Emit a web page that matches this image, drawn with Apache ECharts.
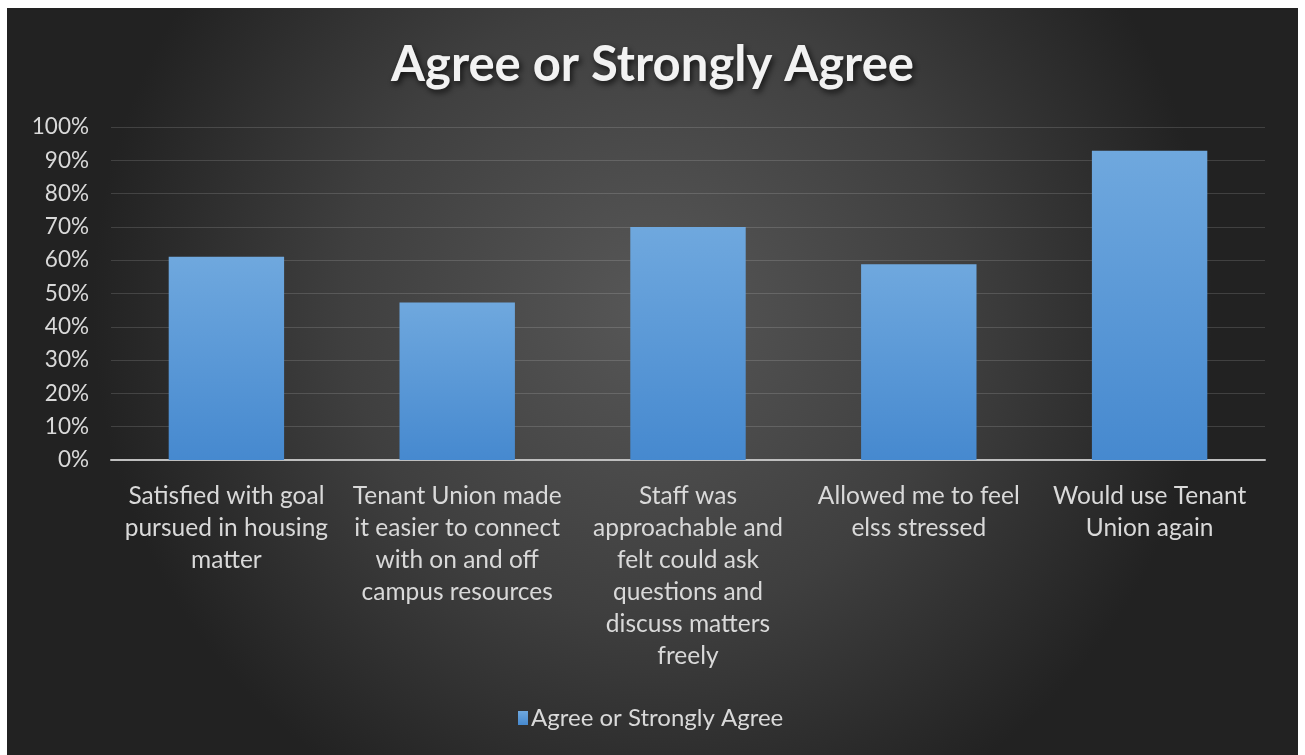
<!DOCTYPE html>
<html>
<head>
<meta charset="utf-8">
<title>Agree or Strongly Agree</title>
<script src="https://cdn.jsdelivr.net/npm/echarts@6/dist/echarts.min.js"></script>
<style>
  html, body { margin: 0; padding: 0; background: #ffffff; }
  #chart { position: absolute; left: 7px; top: 8px; width: 1291px; height: 747px; }
</style>
</head>
<body>
<div id="chart"></div>
<script>
// Survey statements (x axis) and share answering agree / strongly agree
const categories = [
  'Satisfied with goal\npursued in housing\nmatter',
  'Tenant Union made\nit easier to connect\nwith on and off\ncampus resources',
  'Staff was\napproachable and\nfelt could ask\nquestions and\ndiscuss matters\nfreely',
  'Allowed me to feel\nelss stressed',
  'Would use Tenant\nUnion again'
];
const agreeValues = [61, 47.3, 70, 58.8, 92.9];
const seriesName = 'Agree or Strongly Agree';
const chartTitle = 'Agree or Strongly Agree';

const labelFont = 'Lato, "Open Sans", sans-serif';

const chart = echarts.init(document.getElementById('chart'), null, { renderer: 'canvas' });

chart.setOption({
  backgroundColor: {
    type: 'radial', x: 0.5, y: 0.4, r: 0.75,
    colorStops: [
      { offset: 0, color: '#575757' },
      { offset: 0.55, color: '#3f3f3f' },
      { offset: 1, color: '#222222' }
    ]
  },
  title: {
    text: chartTitle,
    left: 'center',
    top: 28,
    textStyle: {
      color: '#f2f2f2',
      fontFamily: labelFont,
      fontWeight: 'bold',
      fontSize: 49,
      textShadowColor: 'rgba(0,0,0,0.75)',
      textShadowBlur: 6,
      textShadowOffsetX: 2,
      textShadowOffsetY: 3
    }
  },
  legend: {
    bottom: 20,
    left: 506,
    itemWidth: 10,
    itemHeight: 14,
    itemGap: 4,
    icon: 'rect',
    textStyle: { color: '#d9d9d9', fontSize: 24, fontFamily: labelFont, padding: [0, 0, 0, -2] },
    data: [seriesName]
  },
  grid: { left: 104, right: 33, top: 119, bottom: 295, containLabel: false },
  xAxis: {
    type: 'category',
    data: categories,
    axisLine: { lineStyle: { color: '#bfbfbf', width: 2 } },
    axisTick: { show: false },
    axisLabel: {
      color: '#d9d9d9',
      fontSize: 24.5,
      fontFamily: labelFont,
      lineHeight: 32,
      margin: 20,
      interval: 0
    }
  },
  yAxis: {
    type: 'value',
    min: 0,
    max: 100,
    interval: 10,
    axisLine: { show: false },
    axisTick: { show: false },
    axisLabel: {
      color: '#d9d9d9',
      fontSize: 22.5,
      fontFamily: labelFont,
      margin: 22,
      formatter: '{value}%'
    },
    splitLine: { lineStyle: { color: 'rgba(255,255,255,0.14)', width: 1 } }
  },
  series: [{
    name: seriesName,
    type: 'bar',
    data: agreeValues,
    barCategoryGap: '50%',
    itemStyle: {
      color: {
        type: 'linear', x: 0, y: 0, x2: 0, y2: 1,
        colorStops: [
          { offset: 0, color: '#6fa8de' },
          { offset: 1, color: '#4689cf' }
        ]
      },
      shadowColor: 'rgba(0,0,0,0.55)',
      shadowBlur: 10
    },
    emphasis: { disabled: true }
  }]
});
</script>
</body>
</html>
